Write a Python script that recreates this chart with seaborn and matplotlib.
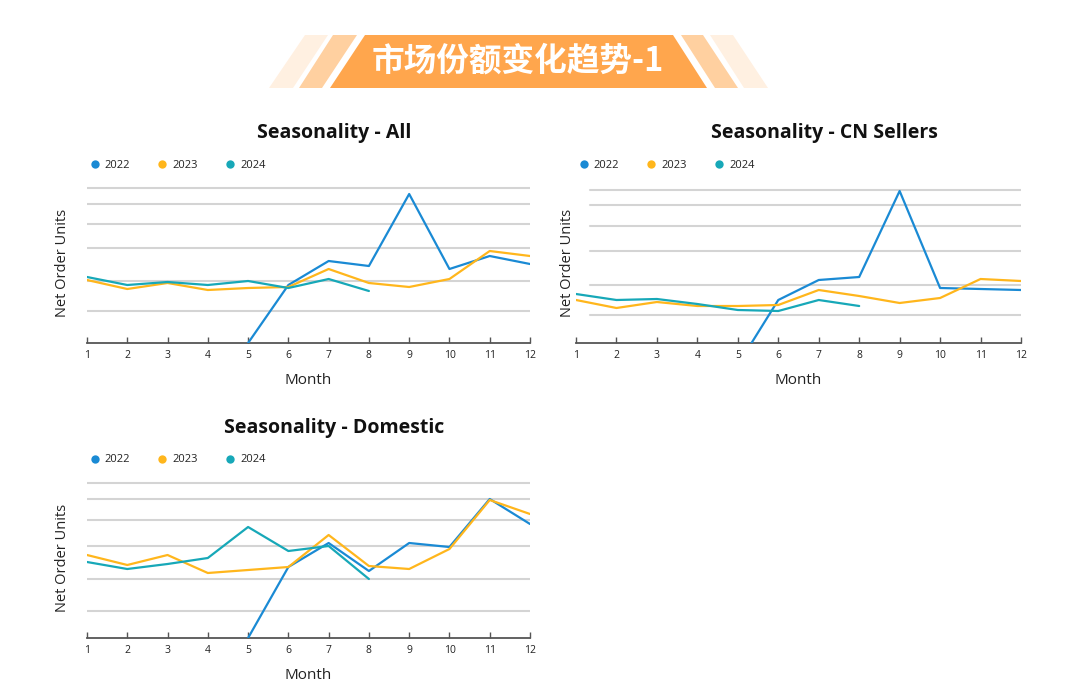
import numpy as np
import pandas as pd
import matplotlib.pyplot as plt
from matplotlib.patches import Polygon
from matplotlib.lines import Line2D
import seaborn as sns

# months and years
months = list(range(1, 13))
years = ['2022', '2023', '2024']

# values (relative units, None = no data)
all_2022 = [None, None, None, None, 0, 58, 82, 77, 149, 74, 87, 79]
all_2023 = [63, 54, 60, 53, 55, 56, 74, 60, 56, 64, 92, 87]
all_2024 = [66, 58, 61, 58, 62, 55, 64, 52, None, None, None, None]
all_grid = [32, 62, 95, 119, 139, 155]

cn_2022 = [None, None, None, None, -22, 43, 63, 66, 152, 55, 54, 53]
cn_2023 = [43, 35, 41, 37, 37, 38, 53, 47, 40, 45, 64, 62]
cn_2024 = [49, 43, 44, 39, 33, 32, 43, 37, None, None, None, None]
cn_grid = [28, 58, 92, 117, 138, 153]

dom_2022 = [None, None, None, None, 0, 71, 95, 67, 95, 91, 139, 114]
dom_2023 = [83, 73, 83, 65, 68, 71, 103, 72, 69, 89, 138, 124]
dom_2024 = [76, 69, 74, 80, 111, 87, 92, 59, None, None, None, None]
dom_grid = [27, 59, 92, 118, 139, 155]

palette = {'2022': '#1a8ad4', '2023': '#ffb61c', '2024': '#17a8b8'}

sns.set_theme(style='white')
plt.rcParams['font.family'] = ['Open Sans', 'Noto Sans CJK SC', 'DejaVu Sans']

W, H = 1080, 696
fig = plt.figure(figsize=(W / 100, H / 100), dpi=100)


def fx(x):
    return x / W


def fy(y):
    return 1 - y / H


# header banner
def banner_poly(pts, color):
    fig.patches.append(Polygon([(fx(x), fy(y)) for x, y in pts], closed=True,
                               transform=fig.transFigure, facecolor=color,
                               edgecolor='none', figure=fig))


banner_poly([(305, 35), (328, 35), (293, 88), (269, 88)], '#fff0e1')
banner_poly([(333, 35), (357, 35), (322, 88), (299, 88)], '#ffd0a0')
banner_poly([(365, 35), (673, 35), (707, 88), (330, 88)], '#ffa64d')
banner_poly([(681, 35), (703, 35), (738, 88), (715, 88)], '#ffd0a0')
banner_poly([(710, 35), (733, 35), (768, 88), (744, 88)], '#fff0e1')
fig.text(fx(518), fy(61), '市场份额变化趋势-1', color='white', fontsize=23.5,
         fontweight='bold', ha='center', va='center',
         family=['Noto Sans CJK SC', 'DejaVu Sans'])

# title, series, grid, axis x range, axis baseline, grid start, ylabel pad
charts = [
    ('Seasonality - All', (all_2022, all_2023, all_2024), all_grid, 87, 530, 343, 87, 12),
    ('Seasonality - CN Sellers', (cn_2022, cn_2023, cn_2024), cn_grid, 576, 1021, 343, 590, 1),
    ('Seasonality - Domestic', (dom_2022, dom_2023, dom_2024), dom_grid, 87, 530, 638, 87, 12),
]

for title, series, grid, x0, x1, ybase, gx0, ypad in charts:
    top = 160
    ax = fig.add_axes([fx(x0), fy(ybase), (x1 - x0) / W, top / H])
    rows = []
    for yr, vals in zip(years, series):
        for m, v in zip(months, vals):
            if v is not None:
                rows.append({'Month': m, 'Year': yr, 'Units': v})
    df = pd.DataFrame(rows)
    sns.lineplot(data=df, x='Month', y='Units', hue='Year', palette=palette,
                 linewidth=1.6, legend=False, ax=ax, clip_on=True, zorder=3)
    ax.set_xlim(1, 12)
    ax.set_ylim(0, top)
    for g in grid:
        ax.axhline(g, xmin=(gx0 - x0) / (x1 - x0), xmax=1, color='#d4d4d4',
                   linewidth=1.5, zorder=1)
    ax.set_yticks([])
    ax.grid(False)
    for s in ['left', 'right', 'top']:
        ax.spines[s].set_visible(False)
    ax.spines['bottom'].set_color('#555555')
    ax.spines['bottom'].set_linewidth(1.3)
    ax.set_xticks(months)
    ax.tick_params(axis='x', direction='in', length=4, width=1, color='#555555',
                   labelsize=7.5, labelcolor='#222222', pad=5, bottom=True)
    ax.set_xlabel('Month', fontsize=11, color='#222222', labelpad=9)
    ax.set_ylabel('Net Order Units', fontsize=10.5, color='#222222', labelpad=ypad)
    fig.text(fx((x0 + x1) / 2 + 26), fy(ybase - 210), title, fontsize=14,
             fontweight='bold', ha='center', va='center', color='#111111')
    handles = [Line2D([], [], linestyle='none', marker='o', markersize=6,
                      markerfacecolor=palette[y], markeredgecolor='none') for y in years]
    ax.legend(handles, years, loc='center left', frameon=False, ncol=3,
              bbox_to_anchor=(fx(x0 - 8), fy(ybase - 178)),
              bbox_transform=fig.transFigure, fontsize=8,
              handletextpad=0.4, columnspacing=2.4, handlelength=1.0,
              labelcolor='#222222')

fig.savefig('out.png', dpi=100, facecolor='white')
